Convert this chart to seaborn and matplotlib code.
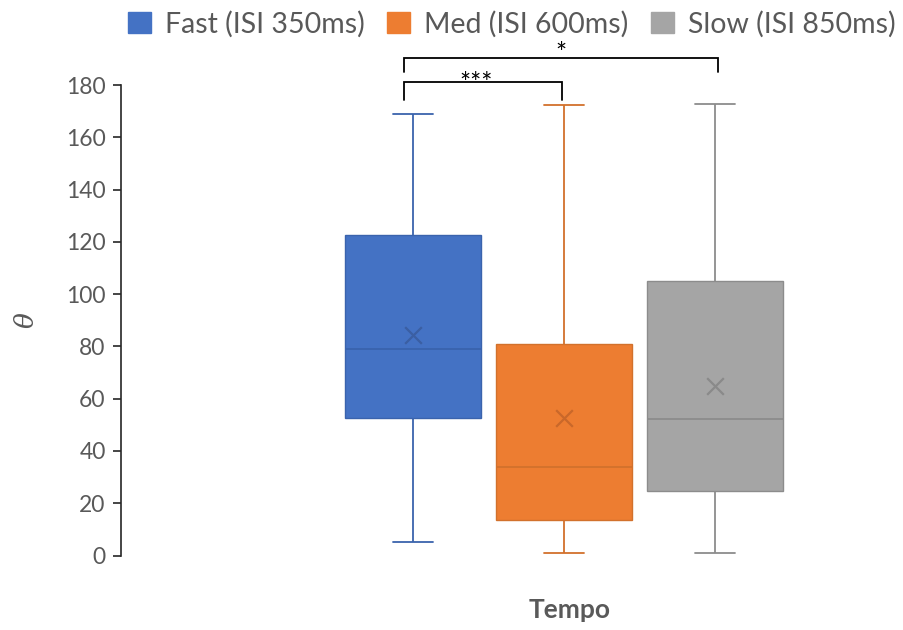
import numpy as np
import pandas as pd
import matplotlib
matplotlib.use("Agg")
import matplotlib.pyplot as plt
from matplotlib.patches import Patch
import seaborn as sns

# ---- data ----
conditions = ["Fast (ISI 350ms)", "Med (ISI 600ms)", "Slow (ISI 850ms)"]
# five-number summaries: min, Q1, median, Q3, max
fast_summary = [5.3, 52.5, 79.0, 122.5, 169.0]
med_summary = [0.8, 13.6, 33.8, 80.9, 172.2]
slow_summary = [0.8, 24.8, 52.2, 105.1, 172.9]
means = [84.4, 52.5, 64.9]
yticks = [0, 20, 40, 60, 80, 100, 120, 140, 160, 180]
# significance brackets: (left condition, right condition, label)
brackets = [("Fast (ISI 350ms)", "Med (ISI 600ms)", "***"),
            ("Fast (ISI 350ms)", "Slow (ISI 850ms)", "*")]

# ---- styling ----
fill_colors = ["#4472C4", "#ED7D31", "#A5A5A5"]
line_colors = ["#3A63AD", "#D2712C", "#8C8C8C"]
mean_colors = ["#3B5FA3", "#C9682A", "#8A8A8A"]
text_gray = "#595959"

sns.set_theme(style="white")
plt.rcParams["font.family"] = ["Lato", "DejaVu Sans"]

df = pd.DataFrame({
    "group": [""] * 15,
    "Condition": np.repeat(conditions, 5),
    "value": fast_summary + med_summary + slow_summary,
})
df_mean = pd.DataFrame({"group": [""] * 3, "Condition": conditions, "value": means})

W, H = 904, 630
fig = plt.figure(figsize=(W / 100, H / 100), dpi=100)
ax_left, ax_right, ax_top, ax_bot = 121, 870, 85, 555.5
ax = fig.add_axes([ax_left / W, 1 - ax_bot / H, (ax_right - ax_left) / W, (ax_bot - ax_top) / H])

sns.boxplot(data=df, x="group", y="value", hue="Condition", hue_order=conditions,
            palette=fill_colors, saturation=1, dodge=True, width=0.8, gap=0.1,
            whis=(0, 100), linewidth=1.2, capwidths=0.07, ax=ax, legend=False)

for cont, lc in zip(ax.containers, line_colors):
    for b in cont.boxes:
        b.set_edgecolor(lc)
        b.set_linewidth(1.0)
    for ln in list(cont.whiskers) + list(cont.caps):
        ln.set_color(lc)
        ln.set_linewidth(1.3)
    for ln in cont.medians:
        ln.set_color(lc)
        ln.set_linewidth(1.3)

sns.stripplot(data=df_mean, x="group", y="value", hue="Condition", hue_order=conditions,
              palette=mean_colors, dodge=True, jitter=False, marker="x", size=12,
              linewidth=1.6, ax=ax, legend=False)

# ---- axes ----
n = len(conditions)
off = (np.arange(n) - (n - 1) / 2) * 0.8 / n
px_per_unit = 151 / (0.8 / n)
ax.set_ylim(0, 180)
ax.set_yticks(yticks)
ax.set_xlim(-(564 - ax_left) / px_per_unit, (ax_right - 564) / px_per_unit)
ax.set_xticks([])
for s in ["top", "right", "bottom"]:
    ax.spines[s].set_visible(False)
ax.spines["left"].set_color("#262626")
ax.spines["left"].set_linewidth(1.2)
ax.tick_params(axis="y", which="both", left=True, length=6, width=1.2, color="#262626",
               labelsize=16.5, labelcolor=text_gray, pad=5)
ax.set_ylabel("θ", fontsize=19, color=text_gray, rotation=90, fontstyle="italic",
              family=["DejaVu Serif", "DejaVu Sans"])
ax.yaxis.set_label_coords(-0.11, 0.5)
ax.set_xlabel("Tempo", fontsize=19, fontweight="bold", color=text_gray)
ax.xaxis.set_label_coords((570 - ax_left) / (ax_right - ax_left), -(598 - ax_bot) / (ax_bot - ax_top))

# ---- significance brackets ----
pos = dict(zip(conditions, off))
levels = [(174.1, 181.0, 180.0), (184.8, 190.5, 191.8)]
for (a, b, lab), (leg, top, ty) in zip(brackets, levels):
    xa, xb = pos[a] - 0.016, pos[b] + (0.005 if b != conditions[1] else -0.003)
    ax.plot([xa, xa, xb, xb], [leg, top, top, leg], color="black", lw=1.3, clip_on=False,
            solid_joinstyle="miter")
    xm = (xa + xb) / 2 - (0.012 if lab == "***" else 0)
    ax.text(xm, ty, lab, ha="center", va="center", fontsize=19, color="black")

# ---- legend ----
handles = [Patch(facecolor=c, edgecolor=c) for c in fill_colors]
fig.legend(handles, conditions, loc="center", bbox_to_anchor=(512 / W, 1 - 24 / H), ncol=3,
           frameon=False, fontsize=20.5, handlelength=0.8, handleheight=0.75,
           handletextpad=0.5, columnspacing=0.8, labelcolor=text_gray,
           borderaxespad=0, borderpad=0)

fig.savefig("out.png", dpi=100)
